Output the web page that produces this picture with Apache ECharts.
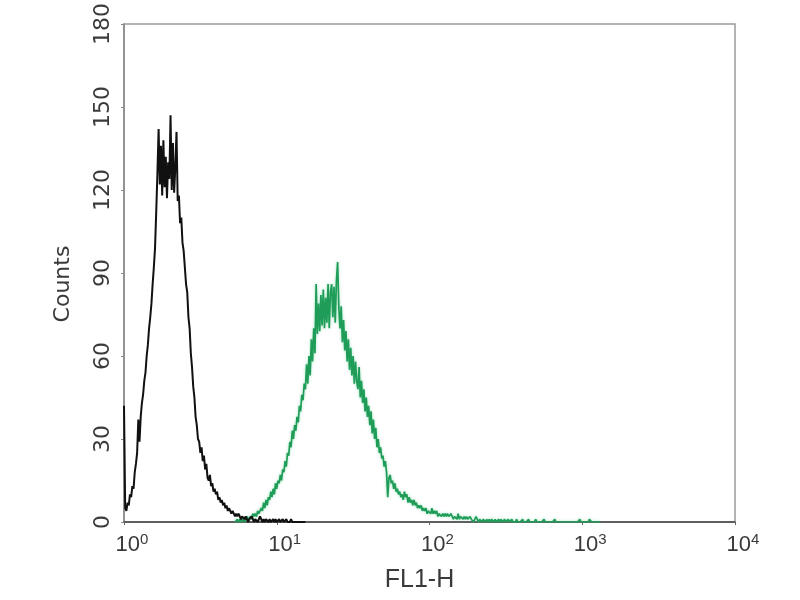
<!DOCTYPE html>
<html>
<head>
<meta charset="utf-8">
<script src="https://cdn.jsdelivr.net/npm/echarts@6/dist/echarts.min.js"></script>
<style>html,body{margin:0;padding:0;background:#fff}#c{width:800px;height:600px}</style>
</head>
<body>
<div id="c"></div>
<script>
// Histogram bins: channel = start + index * binStep (1024-channel log scale, 4 decades)
const binStep = 2;
const blackStartCh = 0;
const blackCounts = [
42,5,4,7,6,10,9,13,12,18,21,25,37,29,38,43,46,51,54,60,
64,70,74,79,86,92,99,112,126,142,122,136,118,138,121,132,117,130,124,147,
120,137,119,128,141,116,118,108,110,101,98,92,86,83,74,70,61,56,49,45,
38,35,30,29,25,27,22,24,19,21,16,15,17,13,14,11,12,10,11,8,
9,7,8,6,7,5,6,4,5,4,3,4,3,2,3,2,3,2,1,2,
2,1,2,1,0,1,1,2,1,0,1,1,0,1,2,1,0,1,0,1,
1,0,1,0,0,1,0,1,0,0,1,0,0,1,0,0,1,0,0,0,
1,0,0,0,0,0,0,0,0,0,0,0,0
];
const greenStartCh = 186;
const greenCounts = [
0,0,1,0,1,0,1,1,0,1,2,1,1,2,1,3,2,3,2,4,
3,4,5,4,7,5,8,6,9,8,11,9,12,10,14,12,15,14,17,15,
19,18,22,20,25,24,29,27,33,30,35,33,38,36,42,40,46,44,50,48,
57,50,60,53,66,58,70,61,86,68,79,69,82,71,84,70,81,72,86,70,
83,86,74,85,72,87,94,78,70,78,65,73,62,69,58,66,55,63,53,60,
50,58,51,48,56,45,51,43,48,40,45,38,42,35,40,32,37,30,34,27,
30,25,27,23,24,20,22,18,9,16,17,14,15,12,14,11,12,10,11,9,
10,8,11,9,10,7,9,7,8,6,8,6,7,5,6,5,6,4,5,4,
5,3,4,4,3,5,3,4,3,4,2,3,3,2,3,2,3,2,3,2,
2,3,2,1,2,2,1,3,1,2,2,1,2,1,2,1,1,2,1,1,
0,1,2,1,0,1,1,0,1,1,0,1,0,1,0,1,1,0,1,0,
0,1,0,1,0,0,1,0,0,1,0,0,1,0,0,0,1,0,0,0,
0,1,0,0,0,0,1,0,0,0,0,0,1,0,0,0,0,0,0,1,
0,0,0,0,0,0,0,0,1,0,0,0,0,0,0,0,0,0,0,0,
0,0,0,0,0,0,0,0,0,1,0,0,0,0,0,0,0,1,1,0,
0,0,0,0,0,0,0
];
const xTickExponents = ['0','1','2','3','4'];
const yTicks = [0,30,60,90,120,150,180];
const xTitle = 'FL1-H';
const yTitle = 'Counts';

const toPairs = (start, counts) => counts.map((c, i) => [start + i * binStep, c]);

const chart = echarts.init(document.getElementById('c'), null, {renderer: 'canvas'});
chart.setOption({
  animation: false,
  backgroundColor: '#fff',
  grid: {left: 124, right: 65, top: 22, bottom: 78, show: true, borderColor: '#9a9a9a', borderWidth: 1.5},
  xAxis: {
    type: 'value', min: 0, max: 1024, interval: 256,
    name: xTitle, nameLocation: 'middle', nameGap: 46,
    nameTextStyle: {fontFamily: 'Liberation Sans, Arial', fontSize: 25, color: '#3a3a3a', padding: [0, 20, 0, 0]},
    axisLine: {show: true, lineStyle: {color: '#444', width: 1.5}},
    axisTick: {show: true, length: 3, lineStyle: {color: '#666'}},
    splitLine: {show: false},
    axisLabel: {
      margin: 10,
      padding: [0, 0, 0, 16],
      formatter: (v) => '{b|10}{s|' + xTickExponents[Math.round(v / 256)] + '}',
      rich: {
        b: {fontFamily: 'Liberation Sans, Arial', fontSize: 22, color: '#3a3a3a', verticalAlign: 'bottom', lineHeight: 24},
        s: {fontFamily: 'Liberation Sans, Arial', fontSize: 15, color: '#3a3a3a', verticalAlign: 'top', lineHeight: 24, padding: [0, 0, 8, 0]}
      }
    }
  },
  yAxis: {
    type: 'value', min: 0, max: 180, interval: 30,
    name: yTitle, nameLocation: 'middle', nameGap: 50,
    nameTextStyle: {fontFamily: 'DejaVu Sans', fontSize: 22, color: '#3a3a3a', padding: [0, 22, 0, 0]},
    axisLine: {show: true, lineStyle: {color: '#888', width: 1.5}},
    axisTick: {show: true, length: 3, lineStyle: {color: '#888'}},
    splitLine: {show: false},
    axisLabel: {
      rotate: 90, margin: 10,
      fontFamily: 'DejaVu Sans', fontSize: 22, color: '#3a3a3a',
      formatter: (v) => String(yTicks[Math.round(v / 30)])
    }
  },
  series: [
    {
      type: 'line', name: 'stained', data: toPairs(greenStartCh, greenCounts),
      showSymbol: false, symbol: 'none', z: 2,
      lineStyle: {color: '#1f9d58', width: 1.7, shadowColor: 'rgba(70,200,130,0.5)', shadowBlur: 3}
    },
    {
      type: 'line', name: 'control', data: toPairs(blackStartCh, blackCounts),
      showSymbol: false, symbol: 'none', z: 3,
      lineStyle: {color: '#111', width: 2}
    }
  ]
});
</script>
</body>
</html>
